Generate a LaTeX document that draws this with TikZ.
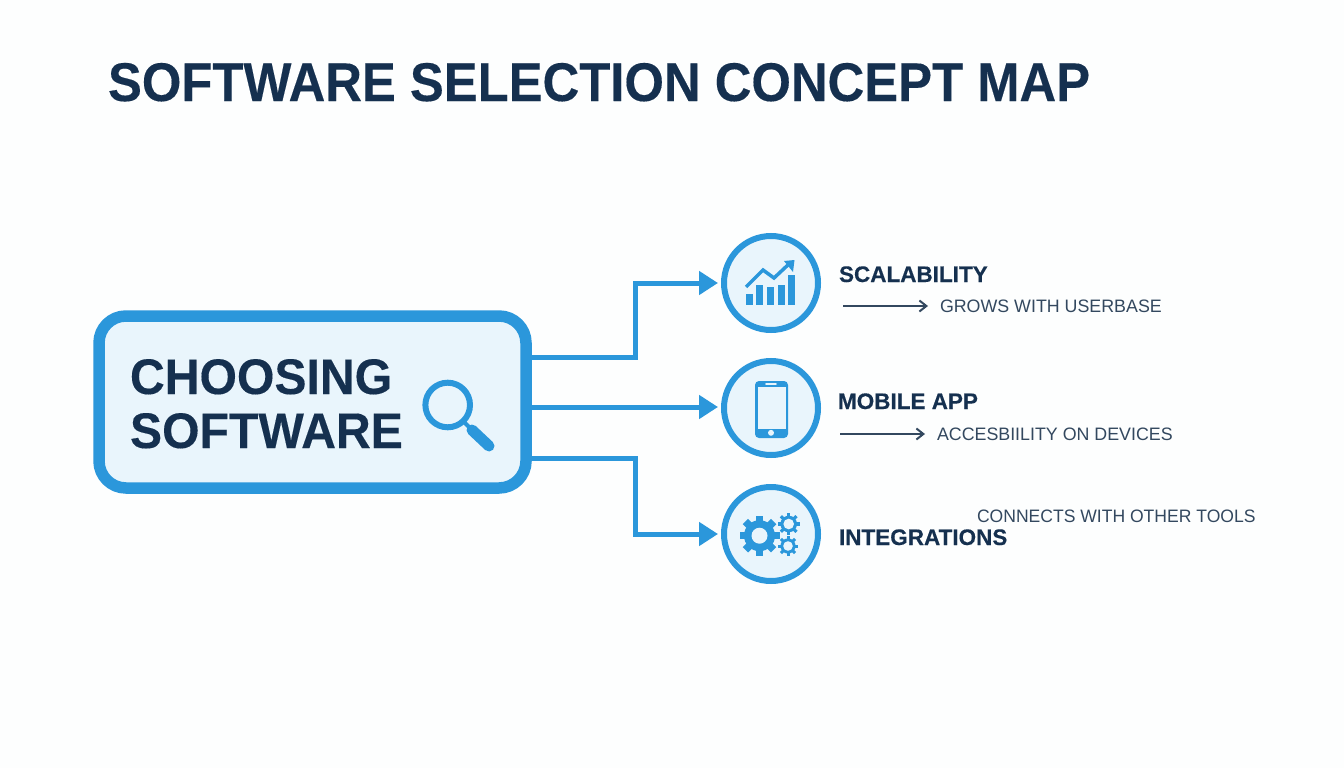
\documentclass[tikz,border=0pt]{standalone}
\usepackage{fontspec}
\setmainfont{Liberation Sans}
\newfontfamily\heavyfont[FakeBold=0.25]{Liberation Sans Bold}
\usetikzlibrary{arrows.meta,calc}
\definecolor{pagebg}{HTML}{FDFEFE}
\definecolor{accent}{HTML}{2B97DB}
\definecolor{paneFill}{HTML}{E9F5FC}
\definecolor{navy}{HTML}{15304F}
\definecolor{slate}{HTML}{33485F}
\tikzset{
  x=1pt,y=-1pt,
  txt/.style={inner sep=0pt,outer sep=0pt,anchor=base west,transform shape},
  titletxt/.style={txt,xscale=0.932,font=\fontsize{54.5}{54.5}\selectfont\heavyfont,text=navy},
  maintxt/.style={txt,xscale=0.963,font=\fontsize{50}{50}\selectfont\heavyfont,text=navy},
  headtxt/.style={txt,font=\fontsize{22.5}{22.5}\selectfont\heavyfont,text=navy},
  desctxt/.style={txt,xscale=0.99,font=\fontsize{18}{18}\selectfont,text=slate},
  mainbox/.style={draw=accent,fill=paneFill,line width=11.5pt,rounded corners=27pt,minimum width=427pt,minimum height=172pt,outer sep=0pt,inner sep=0pt},
  topic/.style={circle,draw=accent,fill=paneFill,line width=6pt,minimum size=94pt,outer sep=3pt,inner sep=0pt},
  conn/.style={draw=accent,line width=5pt,-{Triangle[length=19pt,width=23pt]},shorten >=3pt},
  subconn/.style={draw=slate,line width=2pt,-{Straight Barb[length=7pt,width=11pt]},shorten >=12pt},
}
\newcommand{\gearicon}[7]{% x y outer inner hole teeth toothwidth
  \fill[accent] (#1,#2) circle[radius=#4];
  \foreach \k in {1,...,#6}{
    \draw[accent,line width=#7pt] (#1,#2) -- ++({360/#6*\k}:{#3*1pt});
  }
  \fill[paneFill] (#1,#2) circle[radius=#5];
}
\begin{document}
\begin{tikzpicture}
\useasboundingbox (0,0) rectangle (1344,768);
\fill[pagebg] (0,0) rectangle (1344,768);

\node[titletxt] (title) at (108,101) {SOFTWARE SELECTION CONCEPT MAP};

\node[mainbox] (main) at (312.5,402) {};
\node[maintxt] (mainA) at (130,394) {CHOOSING};
\node[maintxt] (mainB) at (130,448) {SOFTWARE};

\node[topic] (scal) at (771,283) {};
\node[topic] (mob) at (771,408) {};
\node[topic] (integ) at (771,534) {};

\draw[conn] ([yshift=45pt]main.east) -- ++(109,0) |- (scal.west);
\draw[conn] ([yshift=-5pt]main.east) -- (mob.west |- 0,407);
\draw[conn] ([yshift=-56pt]main.east) -- ++(109,0) |- (integ.west);

% magnifier
\draw[accent,line width=6pt] (447.7,405) circle[radius=22.3];
\draw[accent,line width=4pt] (463,421) -- (472,430);
\draw[accent,line width=11pt,line cap=round] (472,430) -- (489,446);

% chart icon
\fill[accent] (745.7,294) rectangle (752.7,304.7);
\fill[accent] (756.3,285) rectangle (763.3,304.7);
\fill[accent] (767,287) rectangle (774,304.7);
\fill[accent] (777.7,285) rectangle (784.7,304.7);
\fill[accent] (788,275) rectangle (795,304.7);
\draw[accent,line width=3.5pt] (746,287) -- (763,270) -- (774,278) -- (790,263);
\fill[accent] (784,261) -- (794.5,260) -- (793,272) -- cycle;

% phone icon
\fill[accent,rounded corners=4pt] (755,381) rectangle (788,438);
\fill[paneFill] (758,386.5) rectangle (785.5,429);
\fill[paneFill,rounded corners=1pt] (765,383.2) rectangle (777,384.8);
\fill[paneFill] (771,432.8) circle[radius=3];

% gear icon
\gearicon{759.5}{535.7}{20}{15.5}{8}{8}{7.5}
\gearicon{788.7}{524}{11}{8.3}{5.3}{8}{3.2}
\gearicon{788}{546}{10}{7.6}{4.8}{8}{3}

% labels
\node[headtxt] (scalT) at (839,282) {SCALABILITY};
\node[desctxt] (scalD) at (940,312) {GROWS WITH USERBASE};
\coordinate (scalS) at (843,306);
\draw[subconn] (scalS) -- (scalS -| scalD.west);

\node[headtxt] (mobT) at (838,409) {MOBILE APP};
\node[desctxt] (mobD) at (937,440) {ACCESBIILITY ON DEVICES};
\coordinate (mobS) at (840,434);
\draw[subconn] (mobS) -- (mobS -| mobD.west);

\node[headtxt] (integT) at (839,545) {INTEGRATIONS};
\node[desctxt,xscale=0.985] (integD) at (977,522) {CONNECTS WITH OTHER TOOLS};
\end{tikzpicture}
\end{document}
